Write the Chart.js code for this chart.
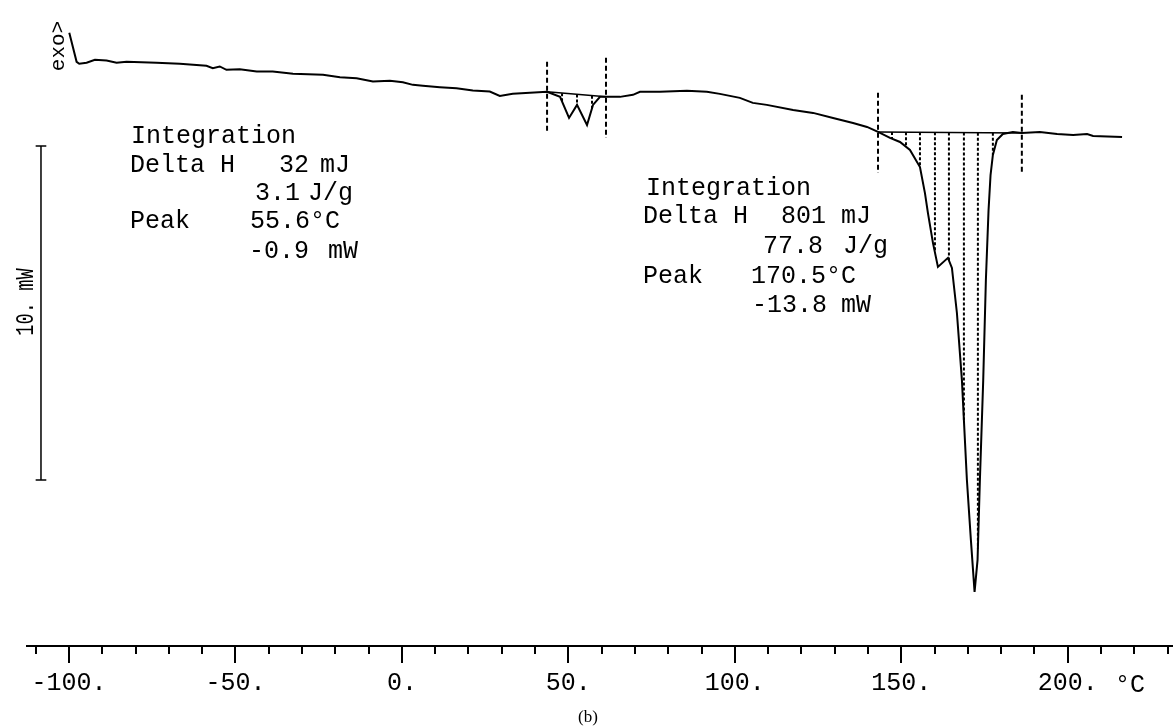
<!DOCTYPE html>
<html>
<head>
<meta charset="utf-8">
<style>
  html, body { margin: 0; padding: 0; background: #fff; }
  #wrap { width: 1173px; height: 728px; }
</style>
<script src="https://cdn.jsdelivr.net/npm/chart.js"></script>
</head>
<body>
<div id="wrap"><canvas id="dsc" width="1173" height="728"></canvas></div>
<script>
/* ---------- DATA ---------- */
// temperature in °C
const temps = [-99.9, -97.7, -96.9, -94.7, -92.2, -88.7, -85.7, -82.7, -73.7, -66.7,
  -58.7, -56.8, -54.7, -52.7, -48.7, -43.6, -38.8, -32.7, -23.7, -18.6,
  -13.6, -8.7, -3.6, 0.3, 3.3, 6.3, 11.4, 16.4, 21.3, 26.4,
  29.4, 33.3, 43.6, 47.5, 50.2, 52.6, 55.6, 57.4, 59.5, 61.3,
  65.5, 69.4, 71.5, 77.5, 85.6, 91.6, 95.5, 101.5, 105.4, 109.6,
  117.5, 123.5, 129.5, 135.5, 139.7, 143.0, 146.6, 149.6, 152.6, 155.6,
  157.1, 158.0, 159.5, 161.0, 164.0, 165.2, 166.7, 168.2, 169.7, 170.9,
  172.0, 172.9, 173.6, 174.6, 175.4, 176.2, 176.8, 177.5, 178.7, 180.5,
  183.5, 186.2, 191.6, 196.8, 201.6, 205.8, 207.6, 216.3];
// heat flow in mW (exo up), offset so the melt baseline sits near 0
const heatFlow = [3.00, 2.13, 2.07, 2.10, 2.19, 2.17, 2.10, 2.13, 2.10, 2.07,
  2.01, 1.94, 1.99, 1.89, 1.91, 1.84, 1.84, 1.77, 1.74, 1.67,
  1.64, 1.54, 1.56, 1.52, 1.44, 1.41, 1.37, 1.34, 1.27, 1.24,
  1.11, 1.17, 1.23, 1.08, 0.45, 0.84, 0.24, 0.84, 1.08, 1.08,
  1.08, 1.14, 1.23, 1.23, 1.26, 1.23, 1.17, 1.05, 0.90, 0.84,
  0.69, 0.60, 0.45, 0.30, 0.18, 0.03, -0.15, -0.27, -0.51, -1.02,
  -1.80, -2.40, -3.29, -4.01, -3.74, -4.04, -5.39, -7.40, -10.39, -12.19,
  -13.74, -12.78, -10.39, -7.40, -4.40, -2.31, -1.26, -0.66, -0.21, -0.03,
  0.03, 0.00, 0.03, -0.03, -0.06, -0.03, -0.09, -0.12];

const xTicksMajor = [-100, -50, 0, 50, 100, 150, 200];

// integration limits (°C) and the extent of their dashed markers (mW)
const smallLimits = [43.6, 61.3];
const smallMarkTop = [2.13, 2.25];
const smallMarkBottom = [0.0, -0.15];
const bigLimits = [143.0, 186.2];
const bigMarkTop = [1.20, 1.14];
const bigMarkBottom = [-1.20, -1.23];

// hatch positions inside the integrated areas (°C)
const smallHatch = [48.1, 52.6, 57.1];
const bigHatch = [147.2, 151.4, 155.6, 160.1, 164.3, 168.8, 173.0, 177.5];

// 10 mW scale bar
const scaleBarTemp = -108.4;
const scaleBarTop = -0.39;
const scaleBarSpan = 10;

/* ---------- helpers ---------- */
function curveAt(t) {
  for (let i = 1; i < temps.length; i++) {
    if (t <= temps[i]) {
      const f = (t - temps[i - 1]) / (temps[i] - temps[i - 1]);
      return heatFlow[i - 1] + f * (heatFlow[i] - heatFlow[i - 1]);
    }
  }
  return heatFlow[heatFlow.length - 1];
}

function baseLine(limits) {
  return limits.map(t => ({ x: t, y: curveAt(t) }));
}

function hatchPoints(hatch, limits) {
  const b0 = curveAt(limits[0]), b1 = curveAt(limits[1]);
  const pts = [];
  hatch.forEach(t => {
    const base = b0 + (t - limits[0]) / (limits[1] - limits[0]) * (b1 - b0);
    pts.push({ x: t, y: base }, { x: t, y: curveAt(t) }, { x: t, y: null });
  });
  return pts;
}

function markerPoints(limits, tops, bottoms) {
  const pts = [];
  limits.forEach((t, i) => {
    pts.push({ x: t, y: tops[i] }, { x: t, y: bottoms[i] }, { x: t, y: null });
  });
  return pts;
}

const curvePts = temps.map((t, i) => ({ x: t, y: heatFlow[i] }));
const capW = 1.6;
const scaleBarPts = [
  { x: scaleBarTemp - capW, y: scaleBarTop }, { x: scaleBarTemp + capW, y: scaleBarTop }, { x: scaleBarTemp, y: null },
  { x: scaleBarTemp, y: scaleBarTop }, { x: scaleBarTemp, y: scaleBarTop - scaleBarSpan }, { x: scaleBarTemp, y: null },
  { x: scaleBarTemp - capW, y: scaleBarTop - scaleBarSpan }, { x: scaleBarTemp + capW, y: scaleBarTop - scaleBarSpan }
];

/* ---------- annotations ---------- */
const MONO = '"Liberation Mono", "DejaVu Sans Mono", monospace';
const notes = [
  ['Integration', 131, 143], ['Delta H', 130, 172], ['32', 279, 172], ['mJ', 320, 172],
  ['3.1', 255, 200], ['J/g', 308, 200], ['Peak', 130, 228], ['55.6°C', 250, 228],
  ['-0.9', 249, 258], ['mW', 328, 258],
  ['Integration', 646, 195], ['Delta H', 643, 223], ['801', 781, 223], ['mJ', 841, 223],
  ['77.8', 763, 253], ['J/g', 843, 253], ['Peak', 643, 283], ['170.5°C', 751, 283],
  ['-13.8', 752, 312], ['mW', 841, 312]
];

const decor = {
  id: 'decor',
  afterDraw(chart) {
    const ctx = chart.ctx;
    const xs = chart.scales.x;
    const bottom = chart.chartArea.bottom;
    ctx.save();
    ctx.strokeStyle = '#000';
    ctx.lineWidth = 2;
    // long major ticks
    xTicksMajor.forEach(v => {
      const px = Math.round(xs.getPixelForValue(v));
      ctx.beginPath();
      ctx.moveTo(px, bottom);
      ctx.lineTo(px, bottom + 17);
      ctx.stroke();
    });
    ctx.fillStyle = '#000';
    ctx.textBaseline = 'alphabetic';
    ctx.textAlign = 'left';
    ctx.font = '25px ' + MONO;
    notes.forEach(n => ctx.fillText(n[0], n[1], n[2]));
    ctx.fillText('°C', 1115, 692);

    // rotated labels
    ctx.save();
    ctx.translate(64, 46);
    ctx.rotate(-Math.PI / 2);
    ctx.textAlign = 'center';
    ctx.font = '21px ' + MONO;
    ctx.fillText('exo>', 0, 0);
    ctx.restore();

    ctx.save();
    ctx.translate(33, 302);
    ctx.rotate(-Math.PI / 2);
    ctx.scale(0.72, 1);
    ctx.textAlign = 'center';
    ctx.font = '26px ' + MONO;
    ctx.fillText('10. mW', 0, 0);
    ctx.restore();

    ctx.font = '17px "Liberation Serif", serif';
    ctx.textAlign = 'center';
    ctx.fillText('(b)', 588, 722);
    ctx.restore();
  }
};

/* ---------- CHART ---------- */
new Chart(document.getElementById('dsc'), {
  type: 'line',
  data: {
    datasets: [
      { data: curvePts, borderColor: '#000', borderWidth: 2, pointRadius: 0, tension: 0 },
      { data: baseLine(smallLimits), borderColor: '#000', borderWidth: 1.5, pointRadius: 0 },
      { data: baseLine(bigLimits), borderColor: '#000', borderWidth: 1.5, pointRadius: 0 },
      { data: hatchPoints(smallHatch, smallLimits), borderColor: '#000', borderWidth: 2,
        borderDash: [3, 2], pointRadius: 0, spanGaps: false },
      { data: hatchPoints(bigHatch, bigLimits), borderColor: '#000', borderWidth: 2,
        borderDash: [3, 2], pointRadius: 0, spanGaps: false },
      { data: markerPoints(smallLimits, smallMarkTop, smallMarkBottom), borderColor: '#000',
        borderWidth: 2, borderDash: [5, 3], pointRadius: 0, spanGaps: false },
      { data: markerPoints(bigLimits, bigMarkTop, bigMarkBottom), borderColor: '#000',
        borderWidth: 2, borderDash: [5, 3], pointRadius: 0, spanGaps: false },
      { data: scaleBarPts, borderColor: '#000', borderWidth: 1.5, pointRadius: 0, spanGaps: false }
    ]
  },
  options: {
    responsive: false,
    animation: false,
    devicePixelRatio: 1,
    layout: { padding: { left: 27, right: 0, top: 0, bottom: 12 } },
    plugins: { legend: { display: false }, tooltip: { enabled: false } },
    scales: {
      x: {
        type: 'linear',
        min: -112.6,
        max: 231.6,
        border: { display: true, color: '#000', width: 2 },
        grid: { drawOnChartArea: false, drawTicks: true, tickLength: 8, color: '#000', lineWidth: 2 },
        ticks: {
          stepSize: 10,
          includeBounds: false,
          autoSkip: false,
          maxRotation: 0,
          color: '#000',
          padding: 14,
          font: { family: MONO, size: 25 },
          callback: v => xTicksMajor.includes(v) ? v + '.' : ''
        },
        afterFit: s => { s.height = 70; s.paddingLeft = 0; s.paddingRight = 0; }
      },
      y: { display: false, min: -15.36, max: 3.98 }
    }
  },
  plugins: [decor]
});
</script>
</body>
</html>
